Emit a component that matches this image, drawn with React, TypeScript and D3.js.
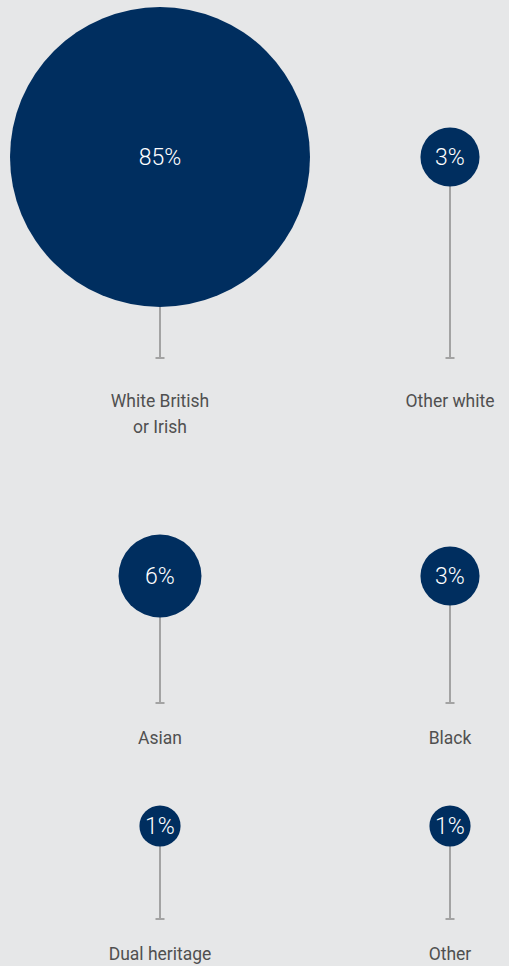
import { useEffect, useRef } from 'react';
import * as d3 from 'd3';

// ethnic group shares (labels as printed, values estimated from circle areas)
const categories = [
  ['White British', 'or Irish'],
  ['Other white'],
  ['Asian'],
  ['Black'],
  ['Dual heritage'],
  ['Other'],
];
const shares = [85, 3.3, 6.5, 3.3, 1.6, 1.6];
const shareLabels = ['85%', '3%', '6%', '3%', '1%', '1%'];

const W = 509;
const H = 966;

// row layout: circle centre, stem end, label baseline
const rowCenter = [157, 576, 826];
const rowStemEnd = [358, 703, 919];
const rowLabel = [407, 744, 960];

export default function App() {
  const svgRef = useRef<SVGSVGElement>(null);

  useEffect(() => {
    if (!svgRef.current) return;
    document.body.style.margin = '0';

    const svg = d3.select(svgRef.current);
    svg.selectAll('*').remove();

    svg.append('rect')
      .attr('width', W)
      .attr('height', H)
      .attr('fill', '#e6e7e8');

    const x = d3.scalePoint<number>()
      .domain([0, 1])
      .range([160, 450]);

    const r = d3.scaleSqrt()
      .domain([0, 85])
      .range([0, 150]);

    const data = categories.map((lines, i) => ({
      lines,
      value: shares[i],
      label: shareLabels[i],
      col: i % 2,
      row: Math.floor(i / 2),
    }));

    const g = svg.selectAll('.item')
      .data(data)
      .join('g')
      .attr('class', 'item');

    g.append('line')
      .attr('x1', d => x(d.col)!)
      .attr('x2', d => x(d.col)!)
      .attr('y1', d => rowCenter[d.row] + r(d.value) - 1)
      .attr('y2', d => rowStemEnd[d.row])
      .attr('stroke', '#a3a3a3')
      .attr('stroke-width', 2);

    g.append('line')
      .attr('x1', d => x(d.col)! - 4.5)
      .attr('x2', d => x(d.col)! + 4.5)
      .attr('y1', d => rowStemEnd[d.row])
      .attr('y2', d => rowStemEnd[d.row])
      .attr('stroke', '#a3a3a3')
      .attr('stroke-width', 2);

    g.append('circle')
      .attr('cx', d => x(d.col)!)
      .attr('cy', d => rowCenter[d.row])
      .attr('r', d => r(d.value))
      .attr('fill', '#002e5f');

    g.append('text')
      .attr('x', d => x(d.col)!)
      .attr('y', d => rowCenter[d.row])
      .attr('dy', '0.36em')
      .attr('text-anchor', 'middle')
      .style('font-family', 'Roboto, sans-serif')
      .style('font-weight', 300)
      .style('font-size', '23px')
      .style('fill', '#ffffff')
      .text(d => d.label);

    g.append('text')
      .attr('text-anchor', 'middle')
      .style('font-family', 'Roboto, sans-serif')
      .style('font-size', '17.5px')
      .style('fill', '#505050')
      .selectAll('tspan')
      .data(d => d.lines.map((t, k) => ({ t, k, d })))
      .join('tspan')
      .attr('x', e => x(e.d.col)!)
      .attr('y', e => rowLabel[e.d.row] + e.k * 26)
      .text(e => e.t);
  }, []);

  return <svg ref={svgRef} width={W} height={H} style={{ display: 'block' }}></svg>;
}
